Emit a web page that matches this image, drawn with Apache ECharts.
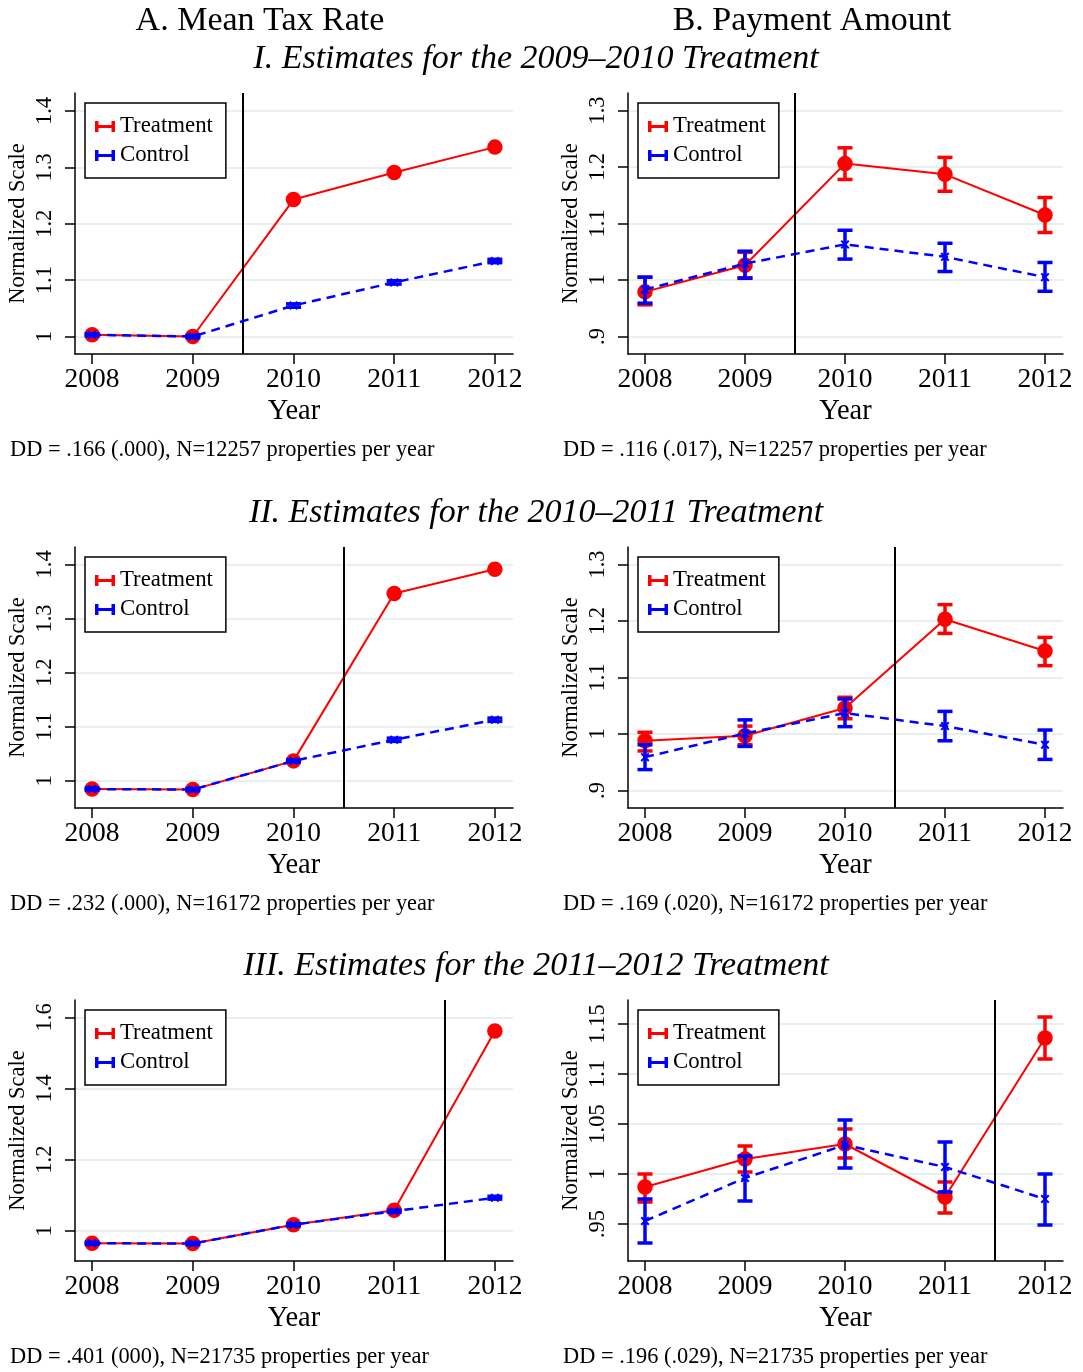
<!DOCTYPE html>
<html><head><meta charset="utf-8">
<script src="https://cdn.jsdelivr.net/npm/echarts@6/dist/echarts.min.js"></script>
<style>html,body{margin:0;padding:0;background:#fff}#c{width:1083px;height:1372px}</style>
</head><body><div id="c"></div><script>
const years = [2008, 2009, 2010, 2011, 2012];

// I-A: Mean tax rate, 2009-2010 treatment
const p1Treat = [1.003, 1.000, 1.243, 1.291, 1.336];
const p1Ctrl = [1.003, 1.000, 1.055, 1.096, 1.134];
const p1CtrlLo = [1.001, 0.998, 1.052, 1.093, 1.131];
const p1CtrlHi = [1.005, 1.002, 1.058, 1.099, 1.137];
const p1YTicks = [1, 1.1, 1.2, 1.3, 1.4];

// I-B: Payment amount, 2009-2010 treatment
const p2Treat = [0.979, 1.026, 1.206, 1.187, 1.115];
const p2TreatLo = [0.956, 1.004, 1.178, 1.157, 1.084];
const p2TreatHi = [1.005, 1.049, 1.234, 1.217, 1.146];
const p2Ctrl = [0.983, 1.029, 1.063, 1.041, 1.005];
const p2CtrlLo = [0.959, 1.003, 1.037, 1.015, 0.980];
const p2CtrlHi = [1.005, 1.051, 1.088, 1.065, 1.031];
const p2YTicks = [0.9, 1, 1.1, 1.2, 1.3];

// II-A: Mean tax rate, 2010-2011 treatment
const p3Treat = [0.985, 0.984, 1.037, 1.346, 1.391];
const p3Ctrl = [0.985, 0.984, 1.037, 1.076, 1.113];
const p3CtrlLo = [0.983, 0.982, 1.035, 1.073, 1.110];
const p3CtrlHi = [0.987, 0.986, 1.039, 1.079, 1.116];
const p3YTicks = [1, 1.1, 1.2, 1.3, 1.4];

// II-B: Payment amount, 2010-2011 treatment
const p4Treat = [0.988, 0.997, 1.046, 1.203, 1.147];
const p4TreatLo = [0.970, 0.981, 1.027, 1.178, 1.121];
const p4TreatHi = [1.003, 1.014, 1.065, 1.229, 1.171];
const p4Ctrl = [0.959, 1.001, 1.037, 1.014, 0.981];
const p4CtrlLo = [0.937, 0.978, 1.013, 0.988, 0.955];
const p4CtrlHi = [0.981, 1.025, 1.062, 1.040, 1.007];
const p4YTicks = [0.9, 1, 1.1, 1.2, 1.3];

// III-A: Mean tax rate, 2011-2012 treatment
const p5Treat = [0.965, 0.964, 1.017, 1.058, 1.562];
const p5Ctrl = [0.965, 0.964, 1.017, 1.055, 1.093];
const p5CtrlLo = [0.962, 0.961, 1.014, 1.052, 1.089];
const p5CtrlHi = [0.968, 0.967, 1.020, 1.058, 1.097];
const p5YTicks = [1, 1.2, 1.4, 1.6];

// III-B: Payment amount, 2011-2012 treatment
const p6Treat = [0.987, 1.015, 1.030, 0.977, 1.136];
const p6TreatLo = [0.972, 1.002, 1.016, 0.961, 1.115];
const p6TreatHi = [1.000, 1.028, 1.045, 0.992, 1.157];
const p6Ctrl = [0.953, 0.996, 1.029, 1.007, 0.975];
const p6CtrlLo = [0.931, 0.973, 1.006, 0.982, 0.949];
const p6CtrlHi = [0.975, 1.018, 1.054, 1.032, 1.000];
const p6YTicks = [0.95, 1, 1.05, 1.1, 1.15];

const treatYears = [2009.5, 2009.5, 2010.5, 2010.5, 2011.5, 2011.5];
const ddTexts = [
  'DD = .166 (.000), N=12257 properties per year',
  'DD = .116 (.017), N=12257 properties per year',
  'DD = .232 (.000), N=16172 properties per year',
  'DD = .169 (.020), N=16172 properties per year',
  'DD = .401 (000), N=21735 properties per year',
  'DD = .196 (.029), N=21735 properties per year'
];
const colTitles = ['A. Mean Tax Rate', 'B. Payment Amount'];
const rowTitles = [
  'I. Estimates for the 2009\u20132010 Treatment',
  'II. Estimates for the 2010\u20132011 Treatment',
  'III. Estimates for the 2011\u20132012 Treatment'
];

const panels = [
  {t: p1Treat, tLo: null, tHi: null, c: p1Ctrl, cLo: p1CtrlLo, cHi: p1CtrlHi, ticks: p1YTicks, min: 0.969, max: 1.432},
  {t: p2Treat, tLo: p2TreatLo, tHi: p2TreatHi, c: p2Ctrl, cLo: p2CtrlLo, cHi: p2CtrlHi, ticks: p2YTicks, min: 0.869, max: 1.331},
  {t: p3Treat, tLo: null, tHi: null, c: p3Ctrl, cLo: p3CtrlLo, cHi: p3CtrlHi, ticks: p3YTicks, min: 0.950, max: 1.432},
  {t: p4Treat, tLo: p4TreatLo, tHi: p4TreatHi, c: p4Ctrl, cLo: p4CtrlLo, cHi: p4CtrlHi, ticks: p4YTicks, min: 0.869, max: 1.331},
  {t: p5Treat, tLo: null, tHi: null, c: p5Ctrl, cLo: p5CtrlLo, cHi: p5CtrlHi, ticks: p5YTicks, min: 0.915, max: 1.649},
  {t: p6Treat, tLo: p6TreatLo, tHi: p6TreatHi, c: p6Ctrl, cLo: p6CtrlLo, cHi: p6CtrlHi, ticks: p6YTicks, min: 0.913, max: 1.174}
];

const FONT = '"Liberation Serif", "Times New Roman", serif';
const RED = '#FF0000', BLUE = '#0000FF';
const colLeft = [75, 628], colWidth = [438, 435];
const rowTop = [93, 547, 1000], gridH = 261;
const H_ICON = 'path://M0,0H3.5V4H16.5V0H20V11H16.5V7H3.5V11H0Z';
const X_SYM = 'path://M0,1.6L1.6,0L5,3.4L8.4,0L10,1.6L6.6,5L10,8.4L8.4,10L5,6.6L1.6,10L0,8.4L3.4,5Z';

function fmt(v) { return String(+v.toFixed(3)).replace(/^0\./, '.'); }

function errRender(color) {
  return function (params, api) {
    const x = api.value(0), lo = api.value(1), hi = api.value(2);
    const a = api.coord([x, lo]), b = api.coord([x, hi]);
    const hw = 7.5;
    const st = {stroke: color, lineWidth: 3.5, fill: null};
    return {type: 'group', children: [
      {type: 'line', shape: {x1: a[0], y1: a[1], x2: b[0], y2: b[1]}, style: st},
      {type: 'line', shape: {x1: a[0] - hw, y1: a[1], x2: a[0] + hw, y2: a[1]}, style: st},
      {type: 'line', shape: {x1: b[0] - hw, y1: b[1], x2: b[0] + hw, y2: b[1]}, style: st}
    ]};
  };
}

const grids = [], xAxes = [], yAxes = [], series = [], legends = [], graphics = [];
panels.forEach((p, i) => {
  const col = i % 2, row = Math.floor(i / 2);
  grids.push({left: colLeft[col], top: rowTop[row], width: colWidth[col], height: gridH, containLabel: false});
  xAxes.push({
    gridIndex: i, type: 'value', min: 2007.83, max: 2012.18,
    axisLine: {show: true, onZero: false, lineStyle: {color: '#000', width: 1.5}},
    axisTick: {show: true, length: 10, customValues: years, lineStyle: {color: '#000', width: 1.5}},
    axisLabel: {customValues: years, fontSize: 27.5, fontFamily: FONT, color: '#000', margin: 12, formatter: v => String(v)},
    splitLine: {show: false},
    name: 'Year', nameLocation: 'middle', nameGap: 43,
    nameTextStyle: {fontSize: 28.5, fontFamily: FONT, color: '#000'}
  });
  yAxes.push({
    gridIndex: i, type: 'value', min: p.min, max: p.max,
    axisLine: {show: true, onZero: false, lineStyle: {color: '#000', width: 1.5}},
    axisTick: {show: true, length: 10, customValues: p.ticks, lineStyle: {color: '#000', width: 1.5}},
    axisLabel: {customValues: p.ticks, rotate: 90, fontSize: 22.5, fontFamily: FONT, color: '#000', margin: 18, formatter: fmt},
    splitLine: {show: true, lineStyle: {color: '#E7EFF1', width: 2}},
    name: 'Normalized Scale', nameLocation: 'middle', nameGap: 45,
    nameTextStyle: {fontSize: 22.5, fontFamily: FONT, color: '#000'}
  });
  if (p.tLo) {
    series.push({type: 'custom', name: 'Treatment CI', xAxisIndex: i, yAxisIndex: i, z: 2,
      renderItem: errRender(RED), encode: {x: 0, y: [1, 2]},
      data: years.map((y, k) => [y, p.tLo[k], p.tHi[k]])});
  }
  series.push({type: 'line', name: 'Treatment', xAxisIndex: i, yAxisIndex: i, z: 3,
    data: years.map((y, k) => [y, p.t[k]]),
    itemStyle: {color: RED}, lineStyle: {color: RED, width: 2},
    symbol: 'circle', symbolSize: 15.5, showAllSymbol: true,
    markLine: {silent: true, symbol: ['none', 'none'], label: {show: false},
      lineStyle: {color: '#000', width: 2, type: 'solid'}, emphasis: {disabled: true},
      data: [{xAxis: treatYears[i]}]}
  });
  series.push({type: 'custom', name: 'Control CI', xAxisIndex: i, yAxisIndex: i, z: 4,
    renderItem: errRender(BLUE), encode: {x: 0, y: [1, 2]},
    data: years.map((y, k) => [y, p.cLo[k], p.cHi[k]])});
  series.push({type: 'line', name: 'Control', xAxisIndex: i, yAxisIndex: i, z: 5,
    data: years.map((y, k) => [y, p.c[k]]),
    itemStyle: {color: BLUE}, lineStyle: {color: BLUE, width: 2.5, type: [9, 6]},
    symbol: X_SYM, symbolSize: 9, showAllSymbol: true});
  legends.push({
    left: colLeft[col] + 10, top: rowTop[row] + 10, orient: 'vertical',
    selectedMode: false, backgroundColor: '#fff', borderColor: '#000', borderWidth: 1.5,
    padding: [12, 13, 11, 10], itemGap: 6, itemWidth: 20, itemHeight: 11, z: 10,
    textStyle: {fontSize: 22.8, fontFamily: FONT, color: '#000'},
    data: [{name: 'Treatment', icon: H_ICON}, {name: 'Control', icon: H_ICON}]
  });
  graphics.push({type: 'text', x: col === 0 ? 10 : 563, y: rowTop[row] + 357,
    style: {text: ddTexts[i], fontSize: 22.4, fontFamily: FONT, fill: '#000', align: 'left', verticalAlign: 'middle'}});
});
colTitles.forEach((t, c) => {
  graphics.push({type: 'text', x: c === 0 ? 260 : 812, y: 21,
    style: {text: t, fontSize: 34, fontFamily: FONT, fill: '#000', align: 'center', verticalAlign: 'middle'}});
});
rowTitles.forEach((t, r) => {
  graphics.push({type: 'text', x: 536, y: rowTop[r] - 34,
    style: {text: t, fontSize: 34, fontStyle: 'italic', fontFamily: FONT, fill: '#000', align: 'center', verticalAlign: 'middle'}});
});

const chart = echarts.init(document.getElementById('c'), null, {renderer: 'canvas'});
chart.setOption({
  animation: false,
  backgroundColor: '#fff',
  grid: grids, xAxis: xAxes, yAxis: yAxes, series: series, legend: legends,
  graphic: {elements: graphics}
});
</script></body></html>
